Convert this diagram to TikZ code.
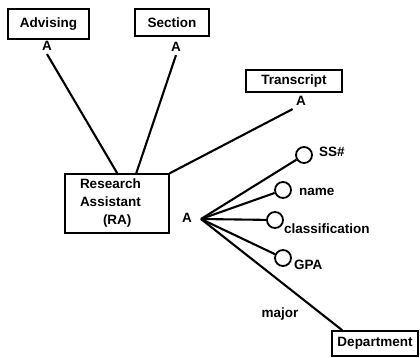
\documentclass[tikz,border=0pt]{standalone}
\usepackage{fontspec}
\setmainfont{Liberation Sans}
\usetikzlibrary{positioning}

\begin{document}
\begin{tikzpicture}[x=1pt, y=-1pt,
    every node/.style={font=\fontsize{13.5}{18}\selectfont\bfseries},
    entity/.style={draw, line width=1.5pt, inner sep=1pt},
    attr/.style={draw, circle, line width=1.8pt, minimum size=16pt, inner sep=0pt},
    link/.style={line width=2.1pt}]
      \useasboundingbox (0, 0) rectangle (420, 358);

      \node [entity, minimum width=81pt, minimum height=30pt] (advising) at (48.5, 24) {Advising};
      \node [entity, minimum width=74pt, minimum height=27pt] (section) at (172, 22.5) {Section};
      \node [entity, minimum width=96pt, minimum height=22pt] (transcript) at (294, 81) {Transcript};
      \node [entity, minimum width=86pt, minimum height=25pt] (department) at (375, 343.5) {Department};
      \node [entity, text width=74pt, inner xsep=15pt, minimum height=59pt, align=left]
        (ra) at (117, 203.5) {Research\\Assistant\\\hspace*{23pt}(RA)};

      \node [below=-2pt of advising, xshift=-1.5pt] (aAdv) {A};
      \node [below=2pt of section, xshift=4pt] (aSec) {A};
      \node [below=0pt of transcript, xshift=7pt] (aTr) {A};
      \node (aRa) at (187, 218) {A};
      \coordinate (hub) at (201, 219);

      \draw [link] (aAdv.south) -- ([xshift=53pt]ra.north west);
      \draw [link] (aSec.south) -- ([xshift=72pt]ra.north west);
      \draw [link] (aTr.south west) -- (ra.north east);

      \foreach \nm/\cx/\cy/\txt/\lx/\ly in {ss/304/155/SS\#/319/152,
          name/283/190/name/299/192, class/275/220/classification/284/229,
          gpa/283/258/GPA/294/265} {
        \node [attr] (\nm) at (\cx, \cy) {};
        \node [anchor=west, inner sep=0pt] (\nm txt) at (\lx, \ly) {\txt};
        \draw [link] (hub) -- (\nm);
      }

      \draw [link] (hub) -- ([xshift=11pt]department.north west);
      \node (major) at (280, 314) {major};
    \end{tikzpicture}
\end{document}
